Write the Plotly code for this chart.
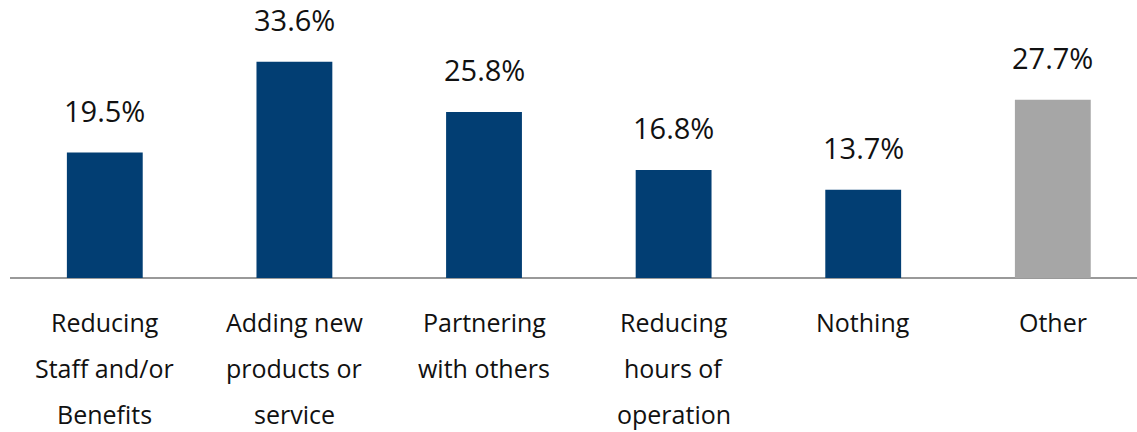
import plotly.graph_objects as go

categories = ["Reducing Staff and/or Benefits", "Adding new products or service",
              "Partnering with others", "Reducing hours of operation", "Nothing", "Other"]
label_lines = [["Reducing", "Staff and/or", "Benefits"],
               ["Adding new", "products or", "service"],
               ["Partnering", "with others"],
               ["Reducing", "hours of", "operation"],
               ["Nothing"],
               ["Other"]]
values = [19.5, 33.6, 25.8, 16.8, 13.7, 27.7]
value_labels = ["19.5%", "33.6%", "25.8%", "16.8%", "13.7%", "27.7%"]

NAVY = "#023E73"
GRAY = "#A6A6A6"
colors = [NAVY] * 5 + [GRAY]
FONT = "Open Sans, Poppins, sans-serif"

xpos = list(range(len(categories)))

fig = go.Figure(go.Bar(
    x=xpos, y=values, width=0.4,
    marker=dict(color=colors, line=dict(width=0)),
    hoverinfo="skip",
))

annotations = []
for xi, v, lab in zip(xpos, values, value_labels):
    annotations.append(dict(
        x=xi, y=v, xref="x", yref="y", text=lab, showarrow=False,
        yanchor="middle", yshift=42,
        font=dict(family=FONT, size=29, color="#111111"),
    ))
for xi, lines in zip(xpos, label_lines):
    for i, line in enumerate(lines):
        annotations.append(dict(
            x=xi, y=0, xref="x", yref="y", text=line, showarrow=False,
            yanchor="middle", yshift=-(44 + 46 * i),
            font=dict(family=FONT, size=25, color="#111111"),
        ))

fig.update_layout(
    width=1137, height=432,
    margin=dict(l=10, r=0, t=0, b=154),
    paper_bgcolor="white", plot_bgcolor="white",
    showlegend=False,
    annotations=annotations,
    xaxis=dict(range=[-0.5, 5.444], showticklabels=False, showgrid=False,
               zeroline=False, showline=False, fixedrange=True),
    yaxis=dict(range=[0, 43.2], showticklabels=False, showgrid=False,
               zeroline=True, zerolinecolor="#999999", zerolinewidth=2,
               showline=False, fixedrange=True),
)

fig.write_html("out.html", config={"displayModeBar": False})
